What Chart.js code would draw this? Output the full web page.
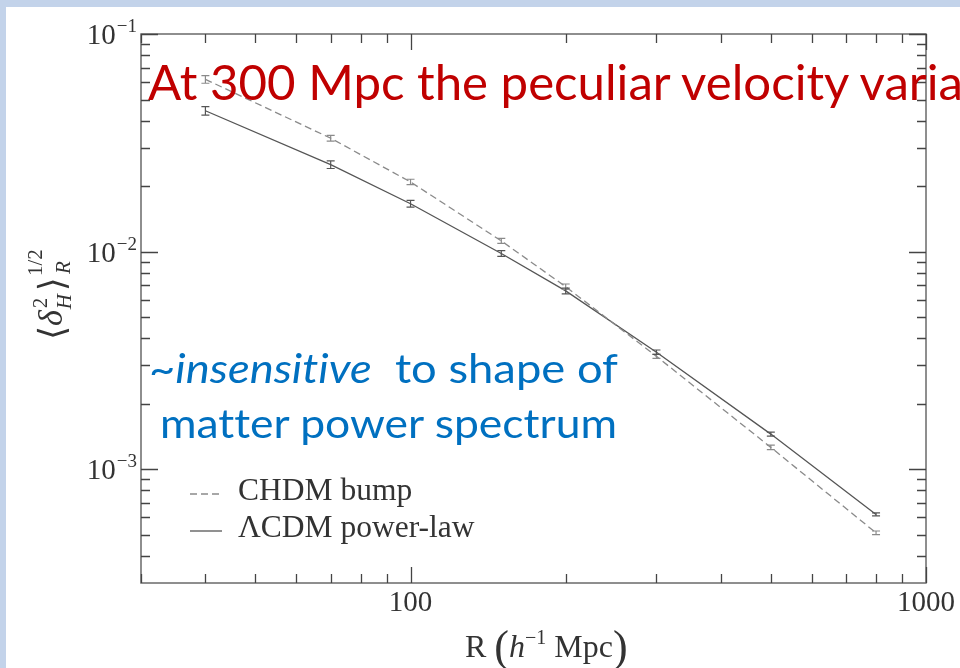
<!DOCTYPE html>
<html>
<head>
<meta charset="utf-8">
<script src="https://cdn.jsdelivr.net/npm/chart.js@4.4.1/dist/chart.umd.min.js"></script>
<style>
  html, body { margin: 0; padding: 0; }
  body { width: 960px; height: 668px; overflow: hidden; position: relative; background: #c3d3ea; }
  #slide { position: absolute; left: 6px; top: 7px; right: 0; bottom: 0; background: #fff; }
  #chart { position: absolute; left: 0; top: 0; }
  .note { position: absolute; white-space: pre; font-family: Lato, "Open Sans", sans-serif; transform-origin: 0 0; line-height: 1;
          font-variant-ligatures: none; font-feature-settings: "liga" 0, "clig" 0; }
  .red { color: #c00000; font-size: 48px; }
  .blue { color: #0070c0; font-size: 40px; }
</style>
</head>
<body>
<div id="slide"></div>
<canvas id="chart" width="960" height="668"></canvas>
<div class="note red" data-x="148" data-base="100" data-w="815">At 300 Mpc the peculiar velocity varia</div>
<div class="note blue" data-x="149" data-base="383" data-w="469">~<i>insensitive</i>  to shape of</div>
<div class="note blue" data-x="160" data-base="438" data-w="457">matter power spectrum</div>
<script>
// smoothing radius R in h^-1 Mpc
const radii = [40, 70, 100, 150, 200, 300, 500, 800];
// rms Hubble-flow deviation for the two models, with 1-sigma errors
const chdmBump = [0.0619, 0.0332, 0.0209, 0.0112, 0.0069, 0.0033, 0.00126, 0.00051];
const chdmErr = [0.0025, 0.0010, 0.0006, 0.0003, 0.0002, 0.00007, 0.00003, 0.00001];
const lcdmPowerLaw = [0.0444, 0.0251, 0.0166, 0.0098, 0.0066, 0.00345, 0.00145, 0.00062];
const lcdmErr = [0.0020, 0.0010, 0.0006, 0.0003, 0.0002, 0.00008, 0.00003, 0.00001];

const xRange = [30, 1000];
const yRange = [3.1e-4, 0.1];
const xTickLabels = ['100', '1000'];
const xTickValues = [100, 1000];
const yTickValues = [1e-3, 1e-2, 1e-1];
const yTickExponents = ['\u22123', '\u22122', '\u22121'];

const SERIF = '"Liberation Serif", "DejaVu Serif", serif';
const INK = '#333';

// log ticks: every 1..9 x 10^n inside the range, decades are major
function logTicks(min, max) {
  const out = [];
  for (let d = Math.floor(Math.log10(min)); d <= Math.ceil(Math.log10(max)); d++) {
    for (let m = 1; m <= 9; m++) {
      const v = m * Math.pow(10, d);
      if (v >= min * 0.999 && v <= max * 1.001) out.push({ v, major: m === 1 });
    }
  }
  return out;
}

// draws runs of [text, font, dy, dx] one after another from (x, y)
function drawRuns(ctx, x, y, runs) {
  runs.forEach(([text, font, dy, dx]) => {
    ctx.font = font;
    ctx.fillText(text, x + (dx || 0), y + (dy || 0));
    x += (dx || 0) + ctx.measureText(text).width;
  });
  return x;
}
function runsWidth(ctx, runs) {
  let w = 0;
  runs.forEach(([text, font, dy, dx]) => { ctx.font = font; w += (dx || 0) + ctx.measureText(text).width; });
  return w;
}

const axesPlugin = {
  id: 'axesPlugin',
  afterDatasetsDraw(chart) {
    const { ctx, chartArea: a, scales: { x, y } } = chart;
    ctx.save();

    // error bars
    chart.data.datasets.forEach((ds) => {
      ctx.strokeStyle = ds.borderColor;
      ctx.lineWidth = 1.2;
      ctx.setLineDash([]);
      ds.data.forEach((p, j) => {
        const px = x.getPixelForValue(p.x);
        const t = y.getPixelForValue(p.y + ds.errors[j]);
        const b = y.getPixelForValue(p.y - ds.errors[j]);
        ctx.beginPath();
        ctx.moveTo(px, t); ctx.lineTo(px, b);
        ctx.moveTo(px - 4, t); ctx.lineTo(px + 4, t);
        ctx.moveTo(px - 4, b); ctx.lineTo(px + 4, b);
        ctx.stroke();
      });
    });

    // frame
    ctx.strokeStyle = '#6a6a6a';
    ctx.lineWidth = 1.5;
    ctx.strokeRect(a.left, a.top, a.right - a.left, a.bottom - a.top);

    // inward ticks on all four sides
    ctx.strokeStyle = '#444';
    ctx.lineWidth = 1.3;
    ctx.beginPath();
    logTicks(xRange[0], xRange[1]).forEach(({ v, major }) => {
      const px = Math.round(x.getPixelForValue(v)) + 0.5;
      const len = major ? 16 : 9;
      ctx.moveTo(px, a.bottom); ctx.lineTo(px, a.bottom - len);
      ctx.moveTo(px, a.top); ctx.lineTo(px, a.top + len);
    });
    logTicks(yRange[0], yRange[1]).forEach(({ v, major }) => {
      const py = Math.round(y.getPixelForValue(v)) + 0.5;
      const len = major ? 17 : 9;
      ctx.moveTo(a.left, py); ctx.lineTo(a.left + len, py);
      ctx.moveTo(a.right, py); ctx.lineTo(a.right - len, py);
    });
    ctx.stroke();

    // tick labels
    ctx.fillStyle = INK;
    ctx.textBaseline = 'alphabetic';
    ctx.textAlign = 'center';
    ctx.font = '29px ' + SERIF;
    xTickValues.forEach((v, i) => {
      ctx.fillText(xTickLabels[i], x.getPixelForValue(v), 611);
    });
    ctx.textAlign = 'left';
    yTickValues.forEach((v, i) => {
      const py = y.getPixelForValue(v);
      const runs = [['10', '29px ' + SERIF, 0], [yTickExponents[i], '19px ' + SERIF, -12, 1]];
      const w = runsWidth(ctx, runs);
      drawRuns(ctx, a.left - 4 - w, py + 10, runs);
    });

    // x title: R (h^-1 Mpc)
    drawRuns(ctx, 465, 657, [
      ['R ', '32px ' + SERIF, 0],
      ['(', '44px ' + SERIF, 4],
      ['h', 'italic 32px ' + SERIF, 0],
      ['\u22121', '20px ' + SERIF, -13],
      [' Mpc', '32px ' + SERIF, 0],
      [')', '44px ' + SERIF, 4]
    ]);

    // y title: <delta_H^2>_R^{1/2}, rotated
    ctx.save();
    ctx.translate(62, 340);
    ctx.rotate(-Math.PI / 2);
    let cx = drawRuns(ctx, 0, 0, [['\u27E8', '36px ' + SERIF, 2], ['\u03B4', 'italic 34px ' + SERIF, 0]]);
    ctx.font = '21px ' + SERIF;
    ctx.fillText('2', cx + 2, -15);
    ctx.font = 'italic 21px ' + SERIF;
    ctx.fillText('H', cx + 1, 9);
    cx += 19;
    cx = drawRuns(ctx, cx, 0, [['\u27E9', '36px ' + SERIF, 2]]);
    ctx.font = '21px ' + SERIF;
    ctx.fillText('1/2', cx + 1, -20);
    ctx.font = 'italic 21px ' + SERIF;
    ctx.fillText('R', cx + 3, 8);
    ctx.restore();

    // legend inside the axes
    chart.data.datasets.forEach((ds, i) => {
      const ly = 494 + i * 37;
      ctx.strokeStyle = ds.borderColor;
      ctx.lineWidth = ds.borderWidth;
      ctx.setLineDash(ds.borderDash || []);
      ctx.beginPath();
      ctx.moveTo(190, ly); ctx.lineTo(222, ly);
      ctx.stroke();
      ctx.setLineDash([]);
      ctx.font = '31.5px ' + SERIF;
      ctx.fillStyle = INK;
      ctx.fillText(ds.label, 238, ly + 6);
    });

    ctx.restore();
  }
};

const toPoints = (vals) => radii.map((r, i) => ({ x: r, y: vals[i] }));

new Chart(document.getElementById('chart'), {
  type: 'line',
  data: {
    datasets: [
      {
        label: 'CHDM bump',
        data: toPoints(chdmBump),
        errors: chdmErr,
        borderColor: '#8a8a8a',
        borderWidth: 1.3,
        borderDash: [7, 4],
        pointRadius: 0,
        tension: 0
      },
      {
        label: '\u039BCDM power-law',
        data: toPoints(lcdmPowerLaw),
        errors: lcdmErr,
        borderColor: '#555',
        borderWidth: 1.3,
        pointRadius: 0,
        tension: 0
      }
    ]
  },
  options: {
    responsive: false,
    animation: false,
    layout: { padding: { left: 141, top: 34, right: 34, bottom: 85 } },
    scales: {
      x: { type: 'logarithmic', min: xRange[0], max: xRange[1], display: false },
      y: { type: 'logarithmic', min: yRange[0], max: yRange[1], display: false }
    },
    plugins: { legend: { display: false }, tooltip: { enabled: false } }
  },
  plugins: [axesPlugin]
});

// place the slide notes on their baselines and fit their widths
document.fonts.ready.then(() => {
  document.querySelectorAll('.note').forEach((el) => {
    const mark = document.createElement('span');
    mark.style.cssText = 'display:inline-block;width:0;height:0';
    el.appendChild(mark);
    el.style.left = el.dataset.x + 'px';
    el.style.top = '0px';
    const r = el.getBoundingClientRect();
    const base = mark.getBoundingClientRect().top - r.top;
    el.style.top = (el.dataset.base - base) + 'px';
    el.style.transform = 'scaleX(' + (el.dataset.w / r.width) + ')';
  });
});
</script>
</body>
</html>
